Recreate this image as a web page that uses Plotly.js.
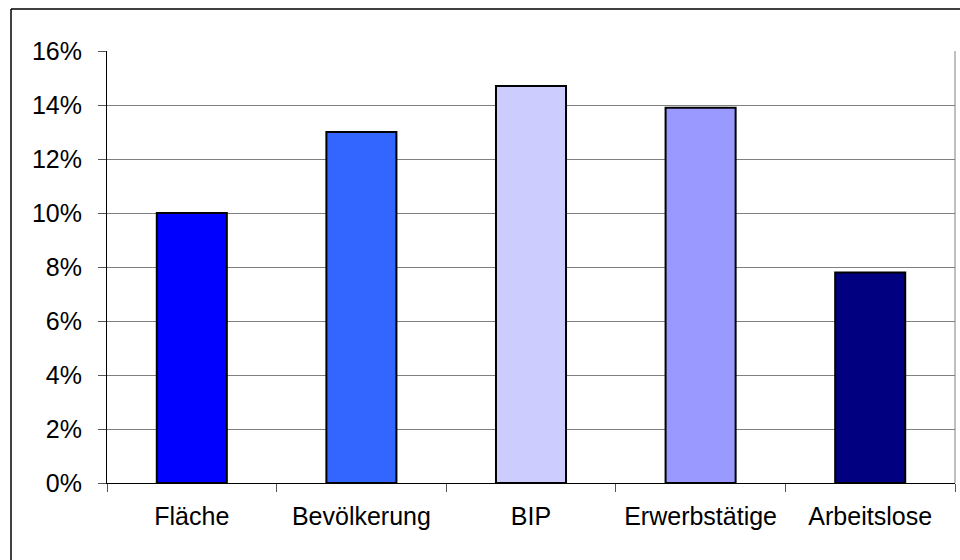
<!DOCTYPE html>
<html>
<head>
<meta charset="utf-8">
<script src="https://cdn.plot.ly/plotly-3.0.1.min.js"></script>
<style>
  html, body { margin: 0; padding: 0; background: #fff; }
  #chart { width: 960px; height: 560px; }
</style>
</head>
<body>
<div id="chart"></div>
<script>
const categories = ["Fläche", "Bevölkerung", "BIP", "Erwerbstätige", "Arbeitslose"];
const values = [10.0, 13.0, 14.7, 13.9, 7.8];
const barColors = ["#0000FF", "#3366FF", "#CCCCFF", "#9999FF", "#000080"];
const yTickVals = [0, 2, 4, 6, 8, 10, 12, 14, 16];
const yTickText = ["0%", "2%", "4%", "6%", "8%", "10%", "12%", "14%", "16%"];

const trace = {
  type: "bar",
  x: categories,
  y: values,
  marker: { color: barColors, line: { color: "#000000", width: 2 } },
  hoverinfo: "x+y"
};

const layout = {
  width: 960,
  height: 560,
  margin: { l: 107, r: 5, t: 51, b: 77 },
  paper_bgcolor: "#ffffff",
  plot_bgcolor: "#ffffff",
  showlegend: false,
  bargap: 0.587,
  font: { family: "Liberation Sans, Arial, sans-serif", size: 25, color: "#000000" },
  xaxis: {
    type: "category",
    showgrid: false,
    showline: true,
    linecolor: "#000000",
    linewidth: 1,
    ticks: "outside",
    tickson: "boundaries",
    ticklen: 8,
    tickcolor: "#555555",
    tickwidth: 1,
    ticklabelstandoff: 11,
    tickfont: { family: "Liberation Sans, Arial, sans-serif", size: 25, color: "#000000" },
    zeroline: false,
    fixedrange: true
  },
  yaxis: {
    range: [0, 16],
    tickvals: yTickVals,
    ticktext: yTickText,
    showgrid: true,
    gridcolor: "#808080",
    gridwidth: 1,
    showline: true,
    linecolor: "#000000",
    linewidth: 1,
    ticks: "outside",
    ticklen: 8,
    tickcolor: "#555555",
    tickwidth: 1,
    ticklabelstandoff: 11,
    tickfont: { family: "Liberation Sans, Arial, sans-serif", size: 25, color: "#000000" },
    zeroline: false,
    fixedrange: true
  },
  shapes: [
    { type: "line", xref: "paper", yref: "paper", x0: 1, x1: 1, y0: 0, y1: 1,
      line: { color: "#808080", width: 1 } },
    { type: "line", xref: "paper", yref: "paper", x0: -0.1132, x1: -0.1132, y0: -0.2, y1: 1.0972,
      line: { color: "#000000", width: 1.5 } },
    { type: "line", xref: "paper", yref: "paper", x0: -0.1132, x1: 1.1, y0: 1.0972, y1: 1.0972,
      line: { color: "#000000", width: 1.5 } }
  ]
};

Plotly.newPlot("chart", [trace], layout, { displayModeBar: false, staticPlot: true });
</script>
</body>
</html>
